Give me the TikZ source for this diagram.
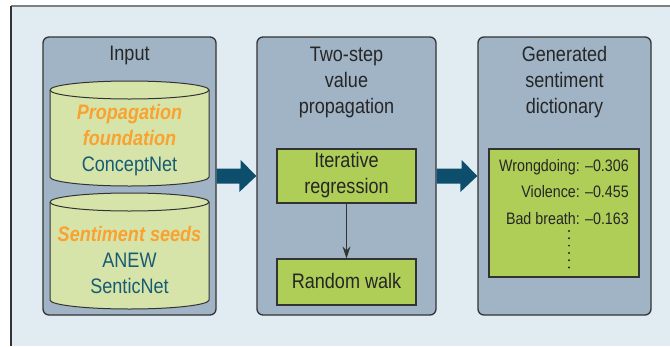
\documentclass[tikz,border=0pt]{standalone}
\usepackage{fontspec}
\setmainfont{Liberation Sans}[FakeStretch=0.86]
\usetikzlibrary{arrows.meta,calc}
\definecolor{bgc}{HTML}{E0ECF2}
\definecolor{panelc}{HTML}{A0B4C6}
\definecolor{cylc}{HTML}{D6E4A9}
\definecolor{greenc}{HTML}{AECE58}
\definecolor{arrowc}{HTML}{0C4E6B}
\definecolor{orangec}{HTML}{F9A22F}
\definecolor{tealc}{HTML}{175C73}
\definecolor{txtc}{HTML}{262626}
\definecolor{linec}{HTML}{333333}
\begin{document}
\begin{tikzpicture}[x=1pt,y=-1pt,
  panel/.style={draw=linec, line width=1.3pt, fill=panelc, rounded corners=6pt, inner sep=0pt},
  title/.style={font=\fontsize{21}{26}\selectfont, text=txtc, align=center, inner sep=0pt},
  gbox/.style={draw=linec, line width=1.2pt, fill=greenc, inner sep=0pt},
  cylbody/.style={draw=linec, line width=1pt, fill=cylc},
  cyltext/.style={font=\fontsize{21}{26}\selectfont, text=tealc, align=center, inner sep=0pt},
  smalltext/.style={font=\fontsize{16.6}{26.5}\selectfont, text=txtc, align=right, inner sep=0pt},
  bigarrow/.style={fill=arrowc}
]
\useasboundingbox (0,0) rectangle (670,346);
\fill[white] (0,0) rectangle (670,346);
\fill[bgc] (11,6) rectangle (670,346);
\draw[gray, line width=1.2pt] (11,6) -- (670,6);
\draw[linec, line width=1.2pt] (11,346) -- (11,6);

% panels
\node[panel, minimum width=173pt, minimum height=278pt] (p1) at (129.5,176) {};
\node[panel, minimum width=179pt, minimum height=278pt] (p2) at (346.5,176) {};
\node[panel, minimum width=173pt, minimum height=278pt] (p3) at (564.5,176) {};

% titles
\node[title] (t1) at (129.5,55) {Input};
\node[title] (t2) at (346.5,82) {Two-step\\value\\propagation};
\node[title] (t3) at (564.5,82) {Generated\\sentiment\\dictionary};

% cylinder 1
\path[cylbody] (50,90) -- (50,177) arc[start angle=180,end angle=360,x radius=79.5pt,y radius=9pt]
  -- (209,90) arc[start angle=0,end angle=180,x radius=79.5pt,y radius=9pt] -- cycle;
\draw[linec, line width=1pt] (50,90) arc[start angle=180,end angle=360,x radius=79.5pt,y radius=9pt];
% cylinder 2
\path[cylbody] (50,202) -- (50,300) arc[start angle=180,end angle=360,x radius=79.5pt,y radius=9pt]
  -- (209,202) arc[start angle=0,end angle=180,x radius=79.5pt,y radius=9pt] -- cycle;
\draw[linec, line width=1pt] (50,202) arc[start angle=180,end angle=360,x radius=79.5pt,y radius=9pt];

\node[cyltext] (c1) at (129.5,140) {{\bfseries\itshape\color{orangec}Propagation}\\{\bfseries\itshape\color{orangec}foundation}\\ConceptNet};
\node[cyltext] (c2) at (129.5,260) {{\bfseries\itshape\color{orangec}Sentiment seeds}\\ANEW\\SenticNet};

% middle boxes
\node[gbox, minimum width=139pt, minimum height=54pt] (b1) at (346.5,176) {};
\node[title] (b1t) at (346.5,175) {Iterative\\regression};
\node[gbox, minimum width=139pt, minimum height=46pt] (b2) at (346.5,282) {};
\node[title] (b2t) at (346.5,281) {Random walk};
\draw[linec, line width=1pt, -{Stealth[length=12pt,width=8pt]}] (b1.south) -- (b2.north);

% dictionary box
\node[gbox, minimum width=150pt, minimum height=128pt] (d) at (564,213) {};
\node[smalltext, anchor=east] (dt) at (629,192) {Wrongdoing: --0.306\\Violence: --0.455\\Bad breath: --0.163};
\draw[txtc, line width=2.2pt, line cap=round, dash pattern=on 0pt off 7.3pt] (569,231) -- (569,268);

% big arrows
\fill[bigarrow] ([yshift=7.5pt]p1.east) -- ++(24,0) -- ++(0,-8.5) -- (p2.west) -- ++(-17,16) -- ++(0,-8.5) -- ([yshift=-7.5pt]p1.east) -- cycle;
\fill[bigarrow] ([yshift=7.5pt]p2.east) -- ++(25,0) -- ++(0,-8.5) -- (p3.west) -- ++(-17,16) -- ++(0,-8.5) -- ([yshift=-7.5pt]p2.east) -- cycle;
\end{tikzpicture}
\end{document}
